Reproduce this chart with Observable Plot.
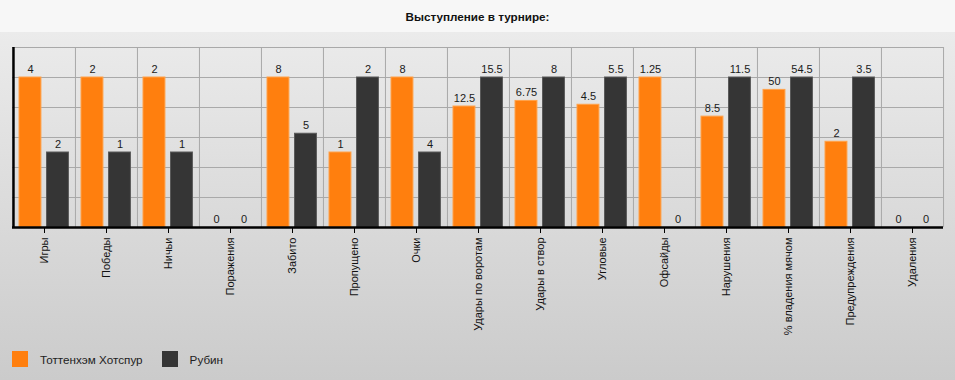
<!DOCTYPE html>
<html><head><meta charset="utf-8">
<script src="https://cdn.jsdelivr.net/npm/d3@7"></script>
<script src="https://cdn.jsdelivr.net/npm/@observablehq/plot@0.6"></script>
<style>
html,body{margin:0;padding:0;}
#wrap{width:955px;height:380px;position:relative;overflow:hidden;font-family:Arial,"Liberation Sans",sans-serif;}
#title{height:32px;background:#f7f7f7;text-align:center;font-weight:bold;font-size:11.7px;line-height:34px;color:#111;}
#area{position:absolute;left:0;top:32px;width:955px;height:348px;background:linear-gradient(#ebebeb,#cbcbcb);}
#chart{position:absolute;left:0;top:0;}
#legend{position:absolute;left:12px;top:319px;display:flex;align-items:center;font-size:11.7px;color:#222;}
.sw{width:16px;height:16px;display:inline-block;margin-right:12px;}
.item{display:flex;align-items:center;margin-right:19px;}
</style></head>
<body>
<div id="wrap">
  <div id="title"></div>
  <div id="area"><div id="chart"></div><div id="legend"></div></div>
</div>
<script>
const title = "Выступление в турнире:";
const categories = ["Игры","Победы","Ничьи","Поражения","Забито","Пропущено","Очки","Удары по воротам","Удары в створ","Угловые","Офсайды","Нарушения","% владения мячом","Предупреждения","Удаления"];
const seriesNames = ["Тоттенхэм Хотспур","Рубин"];
const tottenham = [4,2,2,0,8,1,8,12.5,6.75,4.5,1.25,8.5,50,2,0];
const rubin = [2,1,1,0,5,2,4,15.5,8,5.5,0,11.5,54.5,3.5,0];
const colors = ["#ff7f0e","#353535"];
const strokes = ["#ffa24a","#5a5a5a"];

document.getElementById("title").textContent = title;

const rows = categories.flatMap((c, i) => {
  const m = Math.max(tottenham[i], rubin[i]) || 1;
  return [
    {cat: c, s: 0, value: tottenham[i], h: tottenham[i] / m},
    {cat: c, s: 1, value: rubin[i], h: rubin[i] / m}
  ];
});

const W = 955, ML = 12, MR = 12;
const step = (W - ML - MR) / categories.length;
const padL = 6, bw = 22, gap = 5.5;
const insets = [
  {insetLeft: padL, insetRight: step - padL - bw},
  {insetLeft: padL + bw + gap, insetRight: step - padL - 2 * bw - gap}
];
const centers = [padL + bw / 2 - step / 2, padL + bw + gap + bw / 2 - step / 2];

const marks = [
  Plot.ruleY([0.2, 0.4, 0.6, 0.8, 1.0, 1.2], {stroke: "#a9a9a9", strokeWidth: 1}),
  Plot.ruleX(categories, {x: d => d, dx: -step / 2, stroke: "#a9a9a9"}),
  Plot.ruleX([categories[categories.length - 1]], {x: d => d, dx: step / 2, stroke: "#a9a9a9"})
];
[0, 1].forEach(s => {
  const data = rows.filter(r => r.s === s);
  marks.push(Plot.barY(data.filter(r => r.value !== 0), {
    x: "cat", y: "h", fill: colors[s], stroke: strokes[s], strokeWidth: 1, ...insets[s]
  }));
  marks.push(Plot.text(data, {
    x: "cat", y: "h", text: d => String(d.value), dx: centers[s], dy: -5,
    lineAnchor: "bottom", fontSize: 11, fill: "#1a1a1a"
  }));
});
marks.push(Plot.ruleY([0], {stroke: "#000", strokeWidth: 2.5}));
marks.push(Plot.ruleX([categories[0]], {x: d => d, dx: -step / 2, stroke: "#000", strokeWidth: 2.5}));
marks.push(Plot.axisX({tickSize: 6, tickRotate: -90, tickPadding: 4, fontSize: 11, stroke: "#000", fill: "#111", label: null}));

const chart = Plot.plot({
  width: W, height: 320,
  marginLeft: ML, marginRight: MR, marginTop: 15, marginBottom: 125,
  style: {background: "transparent", fontFamily: "Arial, 'Liberation Sans', sans-serif"},
  x: {type: "band", domain: categories, padding: 0, label: null},
  y: {domain: [0, 1.2], axis: null},
  marks
});
document.getElementById("chart").appendChild(chart);

const legend = document.getElementById("legend");
seriesNames.forEach((n, i) => {
  const it = document.createElement("div"); it.className = "item";
  const sw = document.createElement("span"); sw.className = "sw"; sw.style.background = colors[i];
  const t = document.createElement("span"); t.textContent = n;
  it.appendChild(sw); it.appendChild(t); legend.appendChild(it);
});
</script>
</body></html>
